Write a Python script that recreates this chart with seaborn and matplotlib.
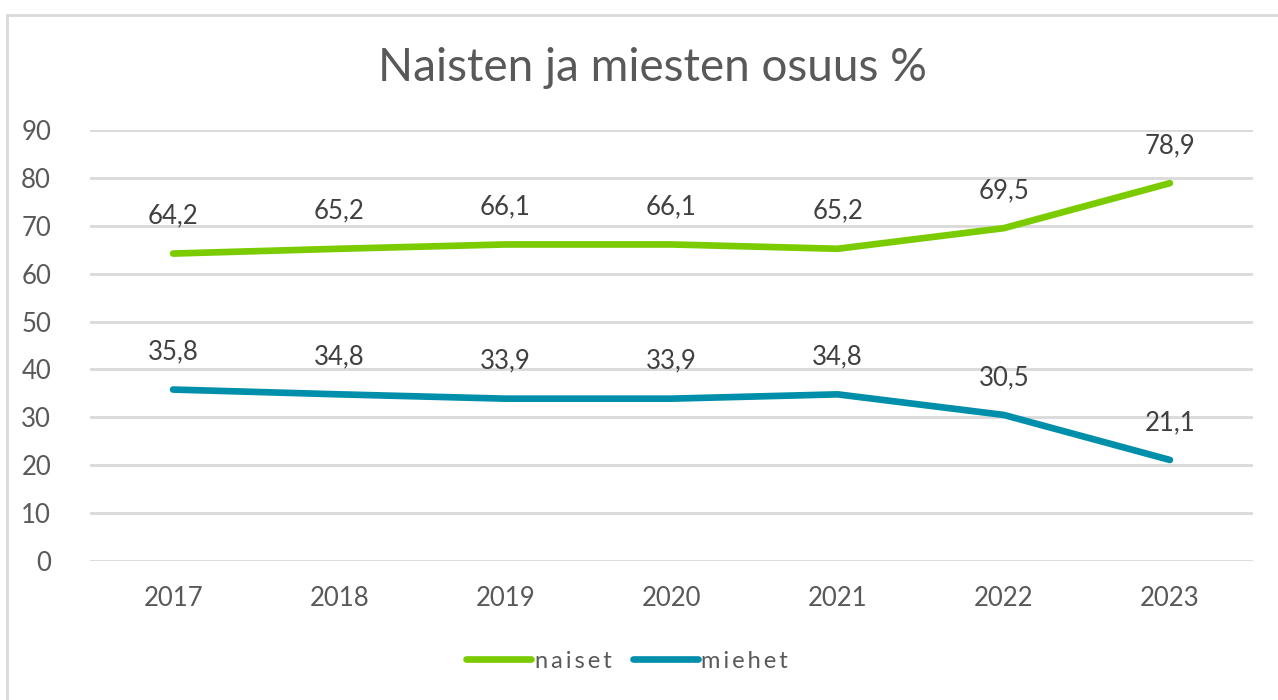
import matplotlib.pyplot as plt
import pandas as pd
import seaborn as sns
from matplotlib.patches import Rectangle

years = ["2017", "2018", "2019", "2020", "2021", "2022", "2023"]
naiset = [64.2, 65.2, 66.1, 66.1, 65.2, 69.5, 78.9]
miehet = [35.8, 34.8, 33.9, 33.9, 34.8, 30.5, 21.1]

series_names = ["naiset", "miehet"]
colors = {"naiset": "#7ACC00", "miehet": "#008FAA"}

df = pd.DataFrame({"vuosi": years * 2,
                   "osuus": naiset + miehet,
                   "sarja": ["naiset"] * len(years) + ["miehet"] * len(years)})

sns.set_style("white")
plt.rcParams["font.family"] = ["Lato", "DejaVu Sans"]

fig = plt.figure(figsize=(12.78, 7.0), dpi=100)
ax = fig.add_axes([90 / 1278, 1 - 561 / 700, (1253 - 90) / 1278, (561 - 130) / 700])

sns.lineplot(data=df, x="vuosi", y="osuus", hue="sarja", hue_order=series_names,
             palette=colors, linewidth=4.8, ax=ax, legend=False,
             solid_capstyle="round", sort=False)

# data labels
for name, vals in [("naiset", naiset), ("miehet", miehet)]:
    for i, v in enumerate(vals):
        ax.annotate(f"{v:.1f}".replace(".", ","), (i, v), xytext=(0, 27),
                    textcoords="offset points", ha="center", va="center",
                    fontsize=18.5, color="#404040")

ax.set_xlim(-0.5, len(years) - 0.5)
ax.set_ylim(0, 90)
ax.set_yticks(range(0, 91, 10))
ax.yaxis.grid(True, color="#D9D9D9", linewidth=2)
ax.xaxis.grid(False)
for s in ax.spines.values():
    s.set_visible(False)
ax.tick_params(axis="both", length=0, labelsize=18.5, labelcolor="#595959")
ax.tick_params(axis="y", pad=28)
ax.tick_params(axis="x", pad=18)
ax.set_xlabel("")
ax.set_ylabel("")

fig.text(652 / 1278, 1 - 68 / 700, "Naisten ja miesten osuus %", ha="center",
         va="center", fontsize=33, color="#595959")

# legend, with letter spacing as in the original
handles = [plt.Line2D([], [], color=colors[n], linewidth=4.8, solid_capstyle="round")
           for n in series_names]
spaced = ["\u2009".join(n) for n in series_names]
fig.legend(handles, spaced, loc="center", bbox_to_anchor=(627 / 1278, 1 - 661 / 700),
           ncol=2, frameon=False, fontsize=17, handlelength=2.75, handletextpad=0.15,
           columnspacing=0.9, labelcolor="#595959")

# outer chart border
fig.patches.append(Rectangle((7 / 1278, -0.05), 1.1, 1 - 15 / 700 + 0.05,
                             transform=fig.transFigure, fill=False,
                             edgecolor="#D9D9D9", linewidth=2, clip_on=False))

fig.savefig("out.png", dpi=100)
